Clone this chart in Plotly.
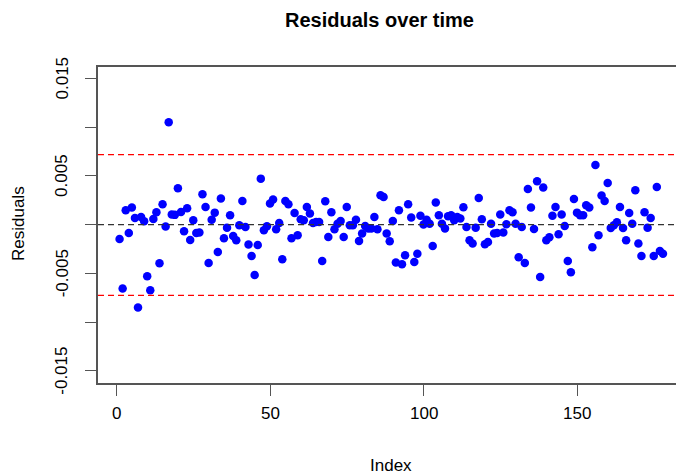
import plotly.graph_objects as go

index = list(range(1, 179))
residuals = [
    -0.00147, -0.00657, 0.00147, -0.00086, 0.00175, 0.00068, -0.00852, 0.00079, 0.00034, -0.0053,
    -0.00674, 0.00058, 0.00127, -0.00397, 0.00209, -0.0002, 0.0105, 0.00103, 0.001, 0.00373,
    0.0013, -0.00068, 0.00168, -0.00157, 0.00044, -0.00086, -0.0008, 0.00311, 0.00181, -0.00393,
    0.00051, 0.00123, -0.0028, 0.00267, -0.0014, -0.00031, 0.00096, -0.00116, -0.00161, -0.00007,
    0.00243, -0.00024, -0.00205, -0.00322, -0.00517, -0.00209, 0.00472, -0.00058, -0.00017, 0.00216,
    0.00257, -0.00048, 0.00017, -0.00356, 0.00243, 0.00209, -0.0014, 0.0012, -0.00109, 0.00055,
    0.00044, 0.00181, 0.00113, 0.00017, 0.00027, 0.00027, -0.00373, 0.0024, -0.00127, 0.00127,
    -0.00048, 0.0001, 0.00038, -0.00127, 0.00181, -0.00007, -0.00007, 0.00051, -0.00168, -0.00092,
    -0.00014, -0.00041, -0.00041, 0.00079, -0.00048, 0.00301, 0.00284, -0.00092, -0.00171, 0.00038,
    -0.0039, 0.00147, -0.00407, -0.00315, 0.00209, 0.00072, -0.00383, -0.00298, 0.00092, 0.0,
    0.00051, 0.0001, -0.00219, 0.00226, 0.00096, 0.0001, -0.00041, 0.00086, 0.00096, 0.00044,
    0.00079, 0.00062, 0.00178, -0.00024, -0.00161, -0.00195, -0.00031, 0.00274, 0.00055, -0.00202,
    -0.00178, 0.0001, -0.00092, -0.00086, 0.00103, -0.00082, 0.00003, 0.00147, 0.00127, 0.0001,
    -0.00335, -0.00024, -0.00393, 0.00366, 0.00175, -0.00044, 0.00445, -0.00537, 0.0038, -0.00161,
    -0.0013, 0.00092, 0.00181, -0.00099, 0.00103, -0.00014, -0.00373, -0.00489, 0.00263, 0.00123,
    0.00096, 0.00096, 0.00198, 0.00175, -0.00233, 0.00613, -0.00109, 0.00298, 0.00243, 0.00428,
    -0.00034, -0.00007, 0.00024, 0.00181, -0.00034, -0.00161, 0.0012, 0.0001, 0.00352, -0.00195,
    -0.00322, 0.00127, -0.00031, 0.00068, -0.00322, 0.00387, -0.0027, -0.00298,
]
upper_limit = 0.00719
lower_limit = -0.00726
center_line = 0.0

x_ticks = [0, 50, 100, 150]
x_tick_labels = ["0", "50", "100", "150"]
y_ticks = [0.015, 0.01, 0.005, 0.0, -0.005, -0.01, -0.015]
y_label_vals = [0.015, 0.005, -0.005, -0.015]
y_label_text = ["0.015", "0.005", "-0.005", "-0.015"]

title_text = "Residuals over time"
x_title = "Index"
y_title = "Residuals"

FONT = "Liberation Sans, Arial, sans-serif"
W, H = 676, 476
L, R, T, B = 98, 0, 67, 93
PW, PH = W - L - R, H - T - B


def px_x(p):
    return (p - L) / PW


def px_y(p):
    return (H - B - p) / PH


fig = go.Figure()
fig.add_trace(go.Scatter(
    x=index, y=residuals, mode="markers",
    marker=dict(color="#0000FF", size=8.5, line=dict(width=0)),
    showlegend=False, hoverinfo="x+y",
))

for val, col in [(upper_limit, "#FF0000"), (lower_limit, "#FF0000"), (center_line, "#333333")]:
    fig.add_shape(type="line", xref="paper", yref="y", x0=0, x1=1, y0=val, y1=val,
                  line=dict(color=col, width=1.3, dash="6px,4px"))

ann = []
ann.append(dict(text="<b>" + title_text + "</b>", x=px_x(379), y=px_y(20), xref="paper", yref="paper",
                showarrow=False, xanchor="center", yanchor="middle", font=dict(size=20, color="black", family=FONT)))
ann.append(dict(text=x_title, x=px_x(391), y=px_y(465), xref="paper", yref="paper",
                showarrow=False, xanchor="center", yanchor="middle", font=dict(size=17, color="black", family=FONT)))
ann.append(dict(text=y_title, x=px_x(18), y=px_y(224), xref="paper", yref="paper", textangle=-90,
                showarrow=False, xanchor="center", yanchor="middle", font=dict(size=17, color="black", family=FONT)))
for v, t in zip(x_ticks, x_tick_labels):
    ann.append(dict(text=t, x=v, y=px_y(413), xref="x", yref="paper", showarrow=False,
                    xanchor="center", yanchor="middle", font=dict(size=17, color="black", family=FONT)))
for v, t in zip(y_label_vals, y_label_text):
    ann.append(dict(text=t, x=px_x(62), y=v, xref="paper", yref="y", textangle=-90, showarrow=False,
                    xanchor="center", yanchor="middle", font=dict(size=17, color="black", family=FONT)))

fig.update_layout(
    width=W, height=H,
    margin=dict(l=L, r=R, t=T, b=B, pad=0),
    paper_bgcolor="white", plot_bgcolor="white",
    annotations=ann,
    xaxis=dict(range=[-6.03, 182.25], tickvals=x_ticks, showticklabels=False, ticks="outside",
               ticklen=11, tickcolor="#555555", tickwidth=1.2, showgrid=False, zeroline=False,
               showline=True, linecolor="#555555", linewidth=1.5, mirror=True),
    yaxis=dict(range=[-0.01626, 0.01618], tickvals=y_ticks, showticklabels=False, ticks="outside",
               ticklen=11, tickcolor="#555555", tickwidth=1.2, showgrid=False, zeroline=False,
               showline=True, linecolor="#555555", linewidth=1.5, mirror=False),
)

fig.write_html("out.html", config={"displayModeBar": False})
with open("out.html", "r", encoding="utf-8") as f:
    html = f.read()
html = html.replace("<body>", '<body style="margin:0;overflow:hidden">', 1)
with open("out.html", "w", encoding="utf-8") as f:
    f.write(html)
